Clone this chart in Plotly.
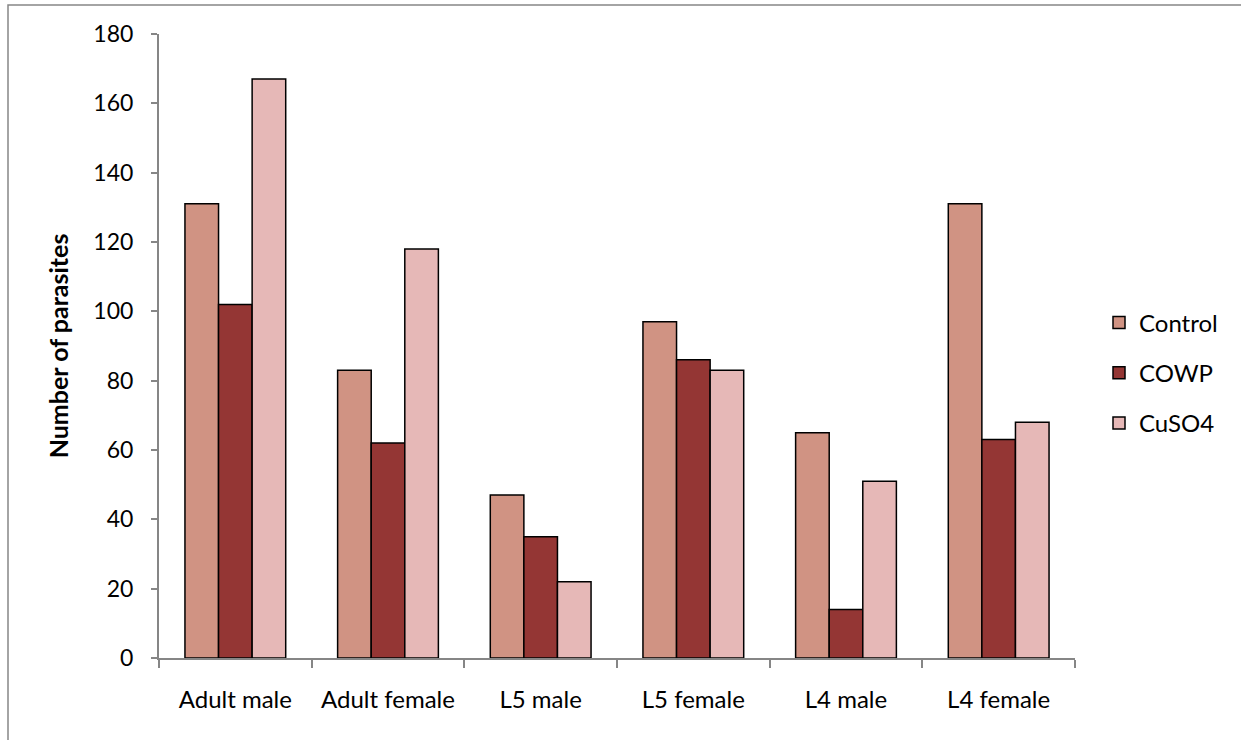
import plotly.graph_objects as go

categories = ["Adult male", "Adult female", "L5 male", "L5 female", "L4 male", "L4 female"]
control = [131, 83, 47, 97, 65, 131]
cowp = [102, 62, 35, 86, 14, 63]
cuso4 = [167, 118, 22, 83, 51, 68]
y_ticks = [0, 20, 40, 60, 80, 100, 120, 140, 160, 180]

FONT = "Lato"
AXIS_GREY = "#868686"

series = [
    ("Control", control, "#D09383"),
    ("COWP", cowp, "#943634"),
    ("CuSO4", cuso4, "#E6B8B7"),
]

fig = go.Figure()
for name, vals, color in series:
    fig.add_trace(go.Bar(
        name=name, x=categories, y=vals, legendgroup=name,
        marker=dict(color=color, line=dict(color="black", width=1.5)),
    ))

# outer chart frame
W, H = 1241, 740
ml, mr, mt, mb = 159, 166, 34, 82
pw, ph = W - ml - mr, H - mt - mb
def px_x(p):
    return (p - ml) / pw
def px_y(p):
    return (H - mb - p) / ph

fig.add_shape(type="rect", xref="paper", yref="paper",
              x0=px_x(8), x1=px_x(1260), y0=px_y(760), y1=px_y(5),
              line=dict(color=AXIS_GREY, width=1.5), fillcolor="rgba(0,0,0,0)", layer="below")

fig.update_layout(
    width=W, height=H,
    margin=dict(l=ml, r=mr, t=mt, b=mb),
    paper_bgcolor="white", plot_bgcolor="white",
    barmode="group", bargap=0.34, bargroupgap=0,
    font=dict(family=FONT, size=24, color="black"),
    showlegend=True,
    legend=dict(x=px_x(1099), xanchor="left", y=px_y(373), yanchor="middle",
                traceorder="grouped", tracegroupgap=16,
                font=dict(family=FONT, size=24, color="black"),
                bgcolor="rgba(0,0,0,0)"),
    xaxis=dict(
        showline=True, linecolor=AXIS_GREY, linewidth=2,
        ticks="outside", tickson="boundaries", ticklen=8, tickcolor=AXIS_GREY, tickwidth=2,
        showgrid=False, ticklabelstandoff=19,
        tickfont=dict(family=FONT, size=24, color="black"),
    ),
    yaxis=dict(
        range=[0, 180], tickvals=y_ticks,
        showline=True, linecolor=AXIS_GREY, linewidth=2,
        ticks="outside", ticklen=6, tickcolor=AXIS_GREY, tickwidth=2,
        showgrid=False, zeroline=False, ticklabelstandoff=13,
        tickfont=dict(family=FONT, size=23, color="black"),
        title=dict(text="<b>Number of parasites</b>", standoff=18,
                   font=dict(family=FONT, size=25, color="black")),
    ),
)

fig.write_html("out.html")
